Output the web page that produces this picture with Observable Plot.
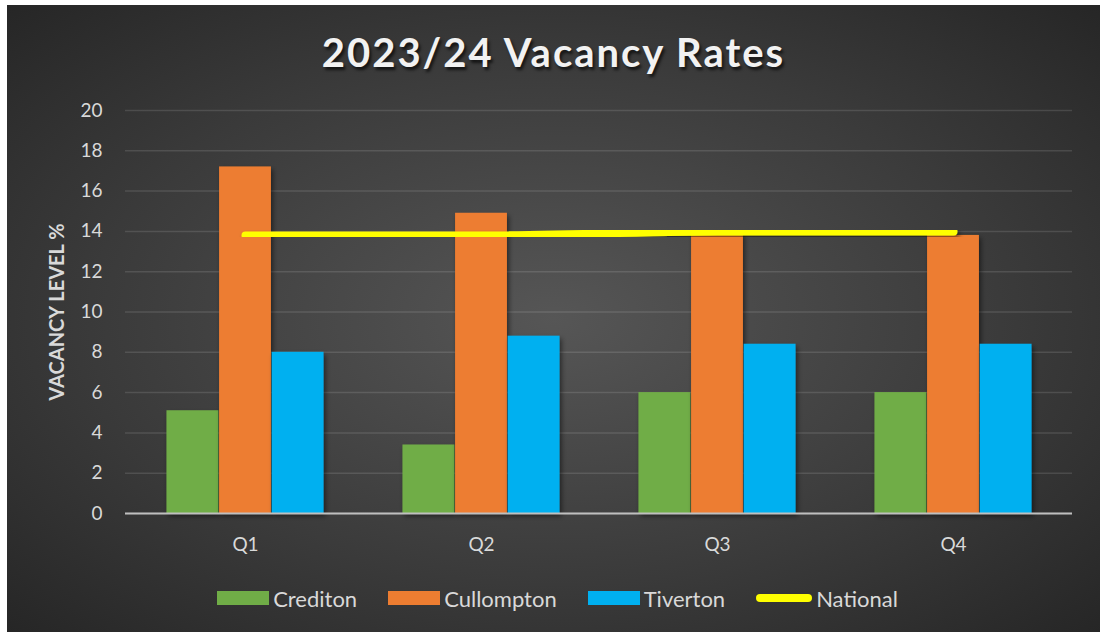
<!DOCTYPE html>
<html>
<head>
<meta charset="utf-8">
<script src="https://cdn.jsdelivr.net/npm/d3@7"></script>
<script src="https://cdn.jsdelivr.net/npm/@observablehq/plot@0.6"></script>
<style>
  html, body { margin: 0; padding: 0; background: #ffffff; }
  #frame {
    position: absolute; left: 7px; top: 5px; width: 1093px; height: 627px; overflow: hidden;
    background: radial-gradient(ellipse farthest-corner at 50% 50%, #565656 0%, #3a3a3a 60%, #262626 100%);
    font-family: Lato, "Open Sans", sans-serif;
  }
  #title {
    height: 75px; padding-top: 10px; line-height: 75px; text-align: center;
    font-size: 40px; font-weight: 700; color: #f2f2f2; letter-spacing: 2px;
    text-shadow: 2px 3px 3px rgba(0,0,0,0.65);
  }
  #chart svg { display: block; }
  #legend {
    height: 36px; display: flex; justify-content: center; align-items: center;
    color: #d9d9d9; font-size: 22px; padding-left: 8px;
  }
  .item { display: flex; align-items: center; margin-right: 31px; }
  .item:last-child { margin-right: 0; }
  .sw { width: 52px; height: 14px; margin-right: 4px; }
  .ln { width: 56px; height: 8px; border-radius: 4px; background: #ffff00; margin-right: 4px; }
</style>
</head>
<body>
<div id="frame">
  <div id="title">2023/24 Vacancy Rates</div>
  <div id="chart"></div>
  <div id="legend"></div>
</div>
<script>
// ---- data ----
const quarters = ["Q1", "Q2", "Q3", "Q4"];
const seriesNames = ["Crediton", "Cullompton", "Tiverton"];
const crediton = [5.1, 3.4, 6.0, 6.0];
const cullompton = [17.2, 14.9, 13.9, 13.8];
const tiverton = [8.0, 8.8, 8.4, 8.4];
const national = [13.8, 13.8, 14.0, 14.0];
const yTicks = [0, 2, 4, 6, 8, 10, 12, 14, 16, 18, 20];
const yLabel = "VACANCY LEVEL %";
const nationalName = "National";

// ---- styles ----
const colors = {Crediton: "#70ad47", Cullompton: "#ed7d31", Tiverton: "#00b0f0"};
const W = 1093, H = 490;
const mL = 118, mR = 28, mT = 20, mB = 67;
const band = (W - mL - mR) / quarters.length;
const barW = band / 4.5;
const inset = (band - barW) / 2;

const seriesValues = {Crediton: crediton, Cullompton: cullompton, Tiverton: tiverton};
const table = name => quarters.map((q, i) => ({quarter: q, value: seriesValues[name][i]}));
const natTable = quarters.map((q, i) => ({quarter: q, value: national[i]}));

const barMarks = seriesNames.map((name, k) =>
  Plot.barY(table(name), {
    x: "quarter", y: "value", fill: colors[name],
    insetLeft: inset, insetRight: inset, dx: (k - 1) * barW
  })
);

const chart = Plot.plot({
  width: W, height: H,
  marginLeft: mL, marginRight: mR, marginTop: mT, marginBottom: mB,
  style: {background: "transparent", color: "#d9d9d9", fontFamily: "Lato, 'Open Sans', sans-serif", fontSize: "19px"},
  x: {domain: quarters, padding: 0, label: null},
  y: {domain: [0, 20], label: null},
  marks: [
    Plot.gridY(yTicks, {stroke: "#ffffff", strokeOpacity: 0.12, strokeWidth: 1.5}),
    Plot.axisY(yTicks, {tickSize: 0, tickPadding: 23, label: null, fontSize: 19}),
    Plot.axisX({tickSize: 0, tickPadding: 24, label: null, fontSize: 19}),
    Plot.text([yLabel], {frameAnchor: "left", textAnchor: "middle", dx: -68, rotate: -90, text: d => d, fontWeight: "bold", fontSize: 20, fill: "#d9d9d9"}),
    ...barMarks,
    Plot.ruleY([0], {stroke: "#bfbfbf", strokeWidth: 2}),
    Plot.line(natTable, {x: "quarter", y: "value", stroke: "#ffff00", strokeWidth: 8, strokeLinecap: "round", curve: "monotone-x"})
  ]
});

// drop shadows
const svg = d3.select(chart);
svg.insert("defs", ":first-child").html(
  '<filter id="sh" x="-30%" y="-30%" width="160%" height="160%">' +
  '<feDropShadow dx="2" dy="3" stdDeviation="2.5" flood-color="#000" flood-opacity="0.5"/></filter>'
);
svg.selectAll('g[aria-label="bar"], g[aria-label="line"]').attr("filter", "url(#sh)");

document.getElementById("chart").appendChild(chart);

// legend
const legend = d3.select("#legend");
seriesNames.forEach(name => {
  const it = legend.append("div").attr("class", "item");
  it.append("div").attr("class", "sw").style("background", colors[name]);
  it.append("span").text(name);
});
const itN = legend.append("div").attr("class", "item");
itN.append("div").attr("class", "ln");
itN.append("span").text(nationalName);
</script>
</body>
</html>
